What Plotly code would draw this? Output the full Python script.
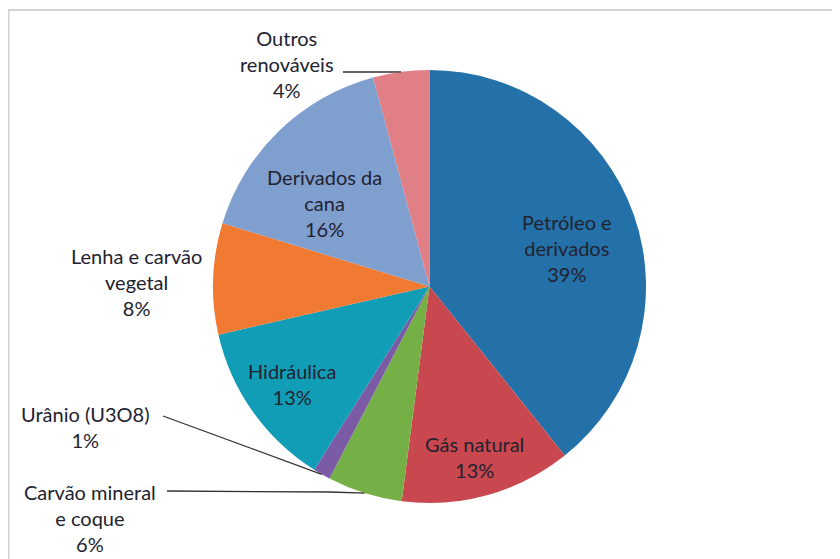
import numpy as np
import plotly.graph_objects as go

# data
fontes = ['Petróleo e derivados', 'Gás natural', 'Carvão mineral e coque', 'Urânio (U3O8)',
          'Hidráulica', 'Lenha e carvão vegetal', 'Derivados da cana', 'Outros renováveis']
valores = [39.3, 12.8, 5.6, 1.3, 12.5, 8.3, 16.1, 4.2]
pct_txt = ['39%', '13%', '6%', '1%', '13%', '8%', '16%', '4%']
rotulos = ['Petróleo e<br>derivados', 'Gás natural', 'Carvão mineral<br>e coque', 'Urânio (U3O8)',
           'Hidráulica', 'Lenha e carvão<br>vegetal', 'Derivados da<br>cana', 'Outros<br>renováveis']
cores = ['#2371A8', '#C9474E', '#74B045', '#7B5BA6', '#119DB5', '#F07A32', '#7F9FCF', '#E07F85']

# page body has an 8px margin, so figure pixels = screen pixels - 8
OFF = 8
W, H = 840 - OFF, 559 - OFF
cx, cy, R = 429.5 - OFF, 286.5 - OFF, 216.5

# label centres (screen pixels) and leader line start points
pos_rotulo = [(567, 248), (475, 457), (90, 518), (85, 427),
              (292, 384), (136, 282), (324, 203), (287, 64)]
linha_ini = {2: [(167, 491), (330, 492)], 3: [(163, 416)], 7: [(343, 72), (392, 72)]}


def px(x, y):
    return x / W, 1 - y / H


fig = go.Figure(go.Pie(
    labels=fontes, values=valores, sort=False, direction='clockwise', rotation=0,
    marker=dict(colors=cores, line=dict(width=0)), textinfo='none', hoverinfo='label+percent',
    domain=dict(x=[(cx - R) / W, (cx + R) / W], y=[1 - (cy + R) / H, 1 - (cy - R) / H]),
    showlegend=False))

# frame
fig.add_shape(type='rect', xref='paper', yref='paper', x0=0.5 / W, x1=1.02, y0=-0.05, y1=1 - 2 / H,
              line=dict(color='#D4D4D4', width=2), fillcolor='rgba(0,0,0,0)', layer='below')

cum = np.cumsum([0] + valores)
tot = cum[-1]
for i, (nome, pct) in enumerate(zip(rotulos, pct_txt)):
    x, y = pos_rotulo[i]
    xp, yp = px(x - OFF, y - OFF)
    fig.add_annotation(x=xp, y=yp, xref='paper', yref='paper', text=nome + '<br>' + pct,
                       showarrow=False, xanchor='center', yanchor='middle',
                       font=dict(family='Lato', size=20, color='#222230'), align='center')
    if i in linha_ini:
        ang = np.deg2rad((cum[i] + valores[i] / 2) / tot * 360)
        ex, ey = cx + R * np.sin(ang), cy - R * np.cos(ang)
        pts = [(a - OFF, b - OFF) for a, b in linha_ini[i]] + [(ex, ey)]
        path = 'M ' + ' L '.join(f'{a / W:.5f},{1 - b / H:.5f}' for a, b in pts)
        fig.add_shape(type='path', xref='paper', yref='paper', path=path,
                      line=dict(color='#333333', width=1.3))

fig.update_layout(width=W, height=H, margin=dict(l=0, r=0, t=0, b=0),
                  paper_bgcolor='white', plot_bgcolor='white')
fig.write_html('out.html')
